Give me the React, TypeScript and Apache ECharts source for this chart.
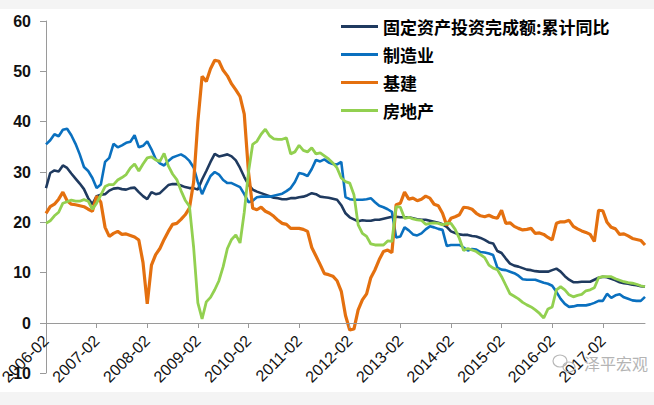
import React, { useEffect, useRef } from "react";
import * as echarts from "echarts";

const seriesNames = ["固定资产投资完成额:累计同比", "制造业", "基建", "房地产"];
const seriesColors = ["#1f3a5f", "#0a70bf", "#e4700f", "#92d050"];

// monthly categories 2006-02 .. 2017-12
const categories: string[] = [];
for (let y = 2006; y <= 2017; y++) {
  for (let m = y === 2006 ? 2 : 1; m <= 12; m++) {
    categories.push(`${y}-${m < 10 ? "0" + m : m}`);
  }
}

const fixedAsset = [
  26.8, 29.8, 30.3, 30.1, 31.3, 30.8, 29.7, 28.7, 27.7, 26.6, 24.8, 23.6,
  25.2, 25.5, 25.6, 26.3, 26.7, 26.8, 26.6, 26.5, 26.8, 26.9, 26.0, 25.2,
  24.6, 26.0, 25.6, 25.8, 26.6, 27.4, 27.6, 27.6, 27.3, 27.0, 26.8, 26.8,
  26.5, 28.5, 30.2, 32.0, 33.6, 33.1, 33.3, 33.5, 33.1, 32.3, 30.8, 29.0,
  27.5, 26.5, 26.1, 25.8, 25.5, 25.2, 24.9, 24.8, 24.6, 24.6, 24.8, 24.8,
  25.0, 25.1, 25.4, 25.8, 25.6, 25.1, 25.0, 24.9, 24.7, 24.5, 23.4, 21.8,
  21.0, 20.6, 20.2, 20.4, 20.3, 20.3, 20.5, 20.5, 20.7, 20.9, 21.1, 21.1,
  21.0, 21.0, 21.0, 20.8, 20.6, 20.5, 20.5, 20.3, 20.1, 19.9, 19.6, 19.1,
  18.2, 17.9, 17.6, 17.5, 17.5, 17.3, 17.2, 16.9, 16.5, 16.0, 15.8, 14.3,
  13.9, 12.8, 11.8, 11.4, 11.2, 10.9, 10.6, 10.5, 10.3, 10.2, 10.2, 10.2,
  10.5, 10.8, 10.2, 9.3, 8.6, 8.1, 8.1, 8.2, 8.2, 8.2, 8.6, 9.0,
  9.2, 9.1, 8.8, 8.5, 8.1, 7.9, 7.8, 7.6, 7.5, 7.3, 7.2,
];

const manufacturing = [
  35.5, 36.3, 37.5, 37.1, 38.4, 38.6, 37.3, 35.6, 33.5, 31.0, 30.2, 28.8,
  26.8, 27.5, 32.0, 32.8, 35.6, 34.9, 35.3, 35.8, 36.0, 37.3, 34.9, 35.2,
  36.1, 34.5, 32.6, 31.7, 31.3, 32.2, 32.9, 33.2, 33.5, 33.0, 32.2, 30.9,
  28.0, 25.6, 27.5, 29.2, 30.0, 29.5, 28.4, 27.8, 27.8, 27.4, 27.0, 25.6,
  24.0, 24.3, 25.0, 25.1, 25.1, 25.1, 25.3, 25.5, 25.7, 26.2, 26.8, 28.0,
  29.8, 29.6, 29.2, 30.6, 32.4, 32.1, 32.5, 31.9, 31.6, 31.5, 32.0, 25.0,
  24.6, 24.5, 24.5, 24.5, 24.6, 24.8, 24.0, 23.3, 23.0, 22.6, 22.1, 17.0,
  17.2, 19.0, 18.4, 17.6, 17.4, 17.8, 18.6, 19.2, 19.0, 18.7, 18.5, 15.3,
  15.5, 15.5, 15.5, 15.0, 14.4, 14.7, 14.6, 14.1, 14.0, 13.8, 13.5, 11.0,
  10.6, 10.5, 10.2, 9.9, 9.4, 8.7, 8.6, 8.6, 8.6, 8.3, 8.0, 7.8,
  7.4, 6.2, 4.8, 3.8, 3.2, 3.3, 3.5, 3.5, 3.5, 3.7, 4.0, 4.4,
  4.4, 5.8, 5.0, 5.5, 5.7, 5.1, 4.8, 4.5, 4.4, 4.4, 5.2,
];

const infrastructure = [
  21.8, 23.1, 23.6, 24.6, 26.0, 24.3, 23.6, 23.5, 23.3, 23.1, 22.6, 22.2,
  25.2, 24.0, 19.0, 17.2, 17.8, 18.2, 17.6, 17.7, 17.4, 17.1, 16.5, 12.0,
  3.8, 11.5, 13.6, 14.8, 16.6, 18.2, 19.6, 19.8, 20.6, 21.5, 22.8, 28.0,
  40.0, 49.0, 48.0, 50.5, 52.2, 52.0, 50.2, 49.1, 47.5, 46.3, 45.0, 41.5,
  30.0, 22.8, 22.5, 23.0, 22.2, 21.8, 21.2, 20.4, 19.8, 19.6, 18.8, 18.8,
  18.8, 18.6, 18.2, 15.0, 13.3, 11.6, 9.8, 9.6, 9.3, 8.4, 6.3, 1.5,
  -1.4, -1.2, 2.6, 4.6, 5.8, 9.0, 10.6, 12.6, 14.2, 14.5, 14.0, 23.5,
  23.8, 26.0, 24.6, 24.8, 24.3, 24.6, 25.2, 24.8, 23.6, 23.3, 21.8, 19.4,
  20.8, 21.1, 21.5, 23.0, 22.9, 22.6, 21.8, 21.3, 21.1, 21.4, 21.0, 20.8,
  22.4, 19.8, 19.9, 19.2, 18.8, 18.5, 18.6, 18.8, 17.8, 17.9, 17.6, 17.0,
  16.5, 19.8, 20.1, 20.1, 20.4, 19.2, 18.7, 18.3, 18.0, 17.6, 16.2, 22.4,
  22.3, 20.0, 19.0, 18.7, 17.6, 17.7, 17.3, 16.8, 16.6, 16.4, 15.5,
];

const realEstate = [
  19.8, 20.3, 21.3, 22.0, 23.8, 24.1, 24.4, 24.2, 24.2, 24.5, 24.2, 22.6,
  23.8, 25.4, 27.1, 27.5, 27.5, 28.4, 28.9, 29.5, 30.8, 31.6, 30.2, 31.6,
  32.8, 33.0, 32.4, 32.1, 33.7, 31.2, 29.6, 28.5, 26.3, 24.4, 23.2, 15.0,
  4.0, 0.8, 4.2, 5.1, 6.6, 8.4, 11.2, 14.8, 16.6, 17.5, 15.9, 22.0,
  30.0, 35.5, 36.1, 37.5, 38.5, 37.2, 36.6, 36.5, 36.5, 36.8, 33.6, 34.0,
  35.3, 34.3, 34.0, 34.8, 33.6, 33.8, 33.2, 32.6, 31.8, 30.8, 28.8, 28.1,
  27.8, 25.5, 19.5, 17.8, 17.2, 15.7, 15.5, 15.5, 15.5, 16.3, 16.2, 23.1,
  23.0, 20.8, 21.0, 20.7, 20.5, 20.4, 19.6, 19.8, 19.9, 19.8, 19.5, 19.8,
  19.8, 18.6, 16.8, 14.4, 14.8, 14.5, 14.2, 13.6, 13.0, 11.5, 10.9, 10.6,
  9.2, 7.5, 5.8, 5.3, 4.8, 4.1, 3.6, 3.2, 2.6, 1.9, 1.0, 2.8,
  3.2, 6.6, 7.2, 6.6, 5.6, 5.2, 5.5, 5.7, 6.4, 6.6, 7.0, 9.0,
  9.2, 9.2, 9.2, 8.8, 8.5, 8.2, 8.0, 7.9, 7.7, 7.4, 7.2,
];

const seriesData = [fixedAsset, manufacturing, infrastructure, realEstate];
const seriesWidths = [2.6, 2.6, 3.2, 2.8];

const axisGray = "#9a9a9a";

export default function App() {
  const ref = useRef<HTMLDivElement>(null);
  useEffect(() => {
    if (!ref.current) return;
    const chart = echarts.init(ref.current, undefined, { renderer: "svg" });
    chart.setOption({
      animation: false,
      backgroundColor: "#ffffff",
      grid: [
        // main plot: 0..60, x axis sits on 0
        { left: 46, top: 21, right: 9, bottom: 82, containLabel: false, outerBoundsMode: "none" },
        // lower band: -10..0 of the value axis
        { left: 46, top: 323, right: 9, bottom: 32, containLabel: false, outerBoundsMode: "none" },
      ],
      legend: {
        orient: "vertical",
        left: 336,
        top: 13,
        itemWidth: 37,
        itemHeight: 3,
        itemGap: 11,
        icon: "rect",
        data: seriesNames,
        textStyle: {
          fontFamily: "Noto Sans CJK SC",
          fontWeight: "bold",
          fontSize: 17,
          color: "#000",
        },
      },
      xAxis: [
        {
          type: "category",
          gridIndex: 0,
          data: categories,
          boundaryGap: false,
          axisLine: { show: true, lineStyle: { color: axisGray, width: 1 } },
          axisTick: { show: true, interval: 11, length: 5, lineStyle: { color: axisGray } },
          axisLabel: {
            interval: 11,
            rotate: 45,
            margin: 15,
            fontSize: 16,
            fontFamily: "Liberation Sans",
            color: "#111",
          },
          splitLine: { show: false },
          z: 10,
        },
        {
          type: "category",
          gridIndex: 1,
          data: categories,
          boundaryGap: false,
          show: false,
        },
      ],
      yAxis: [
        {
          type: "value",
          gridIndex: 0,
          min: 0,
          max: 60,
          interval: 10,
          axisLine: { show: true, lineStyle: { color: axisGray, width: 1 } },
          axisTick: { show: true, length: 6, lineStyle: { color: axisGray } },
          axisLabel: {
            margin: 15,
            fontSize: 16,
            fontWeight: "bold",
            fontFamily: "Liberation Sans",
            color: "#111",
          },
          splitLine: { show: false },
        },
        {
          type: "value",
          gridIndex: 1,
          min: -10,
          max: 0,
          interval: 10,
          axisLine: { show: true, lineStyle: { color: axisGray, width: 1 } },
          axisTick: { show: true, length: 6, lineStyle: { color: axisGray } },
          axisLabel: {
            showMaxLabel: false,
            margin: 15,
            fontSize: 16,
            fontWeight: "bold",
            fontFamily: "Liberation Sans",
            color: "#111",
            formatter: (v: number) => (v === 0 ? "" : String(v)),
          },
          splitLine: { show: false },
        },
      ],
      series: seriesNames.map((name, k) => ({
        name,
        type: "line",
        xAxisIndex: 0,
        yAxisIndex: 0,
        data: seriesData[k],
        showSymbol: false,
        symbol: "none",
        smooth: false,
        clip: false,
        color: seriesColors[k],
        lineStyle: { width: seriesWidths[k], color: seriesColors[k] },
        z: 2 + k,
      })),
      graphic: [
        { type: "rect", left: 0, top: 0, shape: { width: 654, height: 9 }, style: { fill: "#f4f4f4" }, z: 100 },
        { type: "rect", left: 0, top: 392, shape: { width: 654, height: 13 }, style: { fill: "#f4f4f4" }, z: 100 },
        { type: "ellipse", shape: { cx: 560, cy: 361, rx: 7, ry: 6 }, style: { fill: "none", stroke: "#b8b8b8", lineWidth: 1.2 }, z: 100 },
        { type: "ellipse", shape: { cx: 569, cy: 367, rx: 6, ry: 5 }, style: { fill: "none", stroke: "#b8b8b8", lineWidth: 1.2 }, z: 100 },
        {
          type: "text",
          left: 584,
          top: 355,
          style: { text: "泽平宏观", fontSize: 16, fontFamily: "Noto Sans CJK SC", fill: "#b4b4b4" },
          z: 100,
        },
      ],
    });
    return () => chart.dispose();
  }, []);
  return (
    <div
      ref={ref}
      style={{ position: "fixed", left: 0, top: 0, width: 654, height: 405 }}
    />
  );
}
